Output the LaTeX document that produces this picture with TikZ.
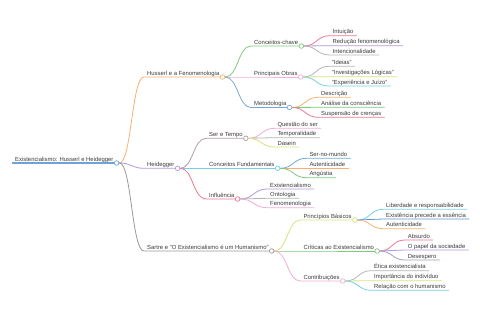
\documentclass[tikz,border=0pt]{standalone}
\usepackage{fontspec}
\setmainfont{Liberation Sans}
\usetikzlibrary{calc}
\definecolor{corange}{HTML}{F8B070}
\definecolor{cpurple}{HTML}{AF98DC}
\definecolor{cgray}{HTML}{999999}
\definecolor{cgreen}{HTML}{80C880}
\definecolor{cpink}{HTML}{F2ACD5}
\definecolor{cblue}{HTML}{7AA6D6}
\definecolor{cred}{HTML}{EC7890}
\definecolor{clgray}{HTML}{B4B4B4}
\definecolor{cyellow}{HTML}{D9E27E}
\definecolor{ccyan}{HTML}{78CFEA}
\definecolor{croot}{HTML}{6AA4D8}
\definecolor{cteal}{HTML}{6AADD4}
\definecolor{cdblue}{HTML}{6194CC}
\definecolor{cmauve}{HTML}{AE9DAA}
\definecolor{cpgray}{HTML}{A89CB8}
\definecolor{ctext}{HTML}{3A3A3A}
\tikzset{
  lbl/.style={font=\fontsize{5.9}{7}\selectfont, text=ctext, inner xsep=3pt, inner ysep=0pt, anchor=base west},
  dot/.style={circle, fill=white, line width=0.7pt, minimum size=4.6pt, inner sep=0pt},
  edge/.style={line width=0.8pt, line cap=round}
}
% #1 name, #2 parent, #3 line start x, #4 y, #5 color, #6 text
\newcommand{\mmbranch}[6]{%
  \coordinate (#1-s) at (#3,#4);
  \node[lbl] (#1) at ([yshift=1.8pt]#1-s) {#6};
  \coordinate (#1-e) at (#1.east |- #1-s);
  \draw[edge,#5] let \p1=(#2-c.east), \p2=(#1-s) in
    (\p1) .. controls ({(\x1+\x2)/2},\y1) and ({(\x1+\x2)/2},\y2) .. (\p2) -- ([xshift=-2.3pt]#1-e);
  \node[dot,draw=#5] (#1-c) at (#1-e) {};
}
\newcommand{\mmleaf}[6]{%
  \coordinate (#1-s) at (#3,#4);
  \node[lbl] (#1) at ([yshift=1.8pt]#1-s) {#6};
  \draw[edge,#5] let \p1=(#2-c.east), \p2=(#1-s) in
    (\p1) .. controls ({(\x1+\x2)/2},\y1) and ({(\x1+\x2)/2},\y2) .. (\p2) -- (#1.east |- #1-s);
}
\begin{document}
\begin{tikzpicture}[x=1pt,y=-1pt]
\useasboundingbox (0,0) rectangle (480,320);
% root
\coordinate (root-s) at (12,163);
\node[lbl] (root) at ([yshift=1.8pt]root-s) {Existencialismo: Husserl e Heidegger};
\coordinate (root-e) at (root.east |- root-s);
\draw[line width=1.3pt,croot] (root-s) -- ([xshift=-2.3pt]root-e);
\node[dot,draw=croot] (root-c) at (root-e) {};
% level 1
\mmbranch{hus}{root}{144}{77}{corange}{Husserl e a Fenomenologia}
\mmbranch{hei}{root}{144}{168.3}{cpurple}{Heidegger}
\mmbranch{sar}{root}{144}{251}{cgray}{Sartre e "O Existencialismo é um Humanismo"}
% Husserl
\mmbranch{cc}{hus}{251}{46}{cgreen}{Conceitos-chave}
\mmbranch{po}{hus}{251}{77}{cpink}{Principais Obras}
\mmbranch{met}{hus}{251}{107.5}{cblue}{Metodologia}
\mmleaf{int}{cc}{329.5}{35.7}{cred}{Intuição}
\mmleaf{red}{cc}{329.5}{45.7}{cpurple}{Redução fenomenológica}
\mmleaf{inten}{cc}{329.5}{55}{clgray}{Intencionalidade}
\mmleaf{ide}{po}{328.7}{66.3}{clgray}{"Ideias"}
\mmleaf{inv}{po}{328.7}{76.7}{cyellow}{"Investigações Lógicas"}
\mmleaf{exp}{po}{328.7}{86}{ccyan}{"Experiência e Juízo"}
\mmleaf{des}{met}{318}{97.3}{corange}{Descrição}
\mmleaf{ana}{met}{318}{107.3}{cgreen}{Análise da consciência}
\mmleaf{sus}{met}{318}{117.3}{cred}{Suspensão de crenças}
% Heidegger
\mmbranch{set}{hei}{206}{138.3}{cmauve}{Ser e Tempo}
\mmbranch{cf}{hei}{206}{168.3}{ccyan}{Conceitos Fundamentais}
\mmbranch{inf}{hei}{206}{199}{cred}{Influência}
\mmleaf{qs}{set}{274.3}{128.3}{cpink}{Questão do ser}
\mmleaf{tem}{set}{274.3}{137.7}{clgray}{Temporalidade}
\mmleaf{das}{set}{274.3}{147}{cyellow}{Dasein}
\mmleaf{snm}{cf}{306.3}{158.3}{cteal}{Ser-no-mundo}
\mmleaf{aut}{cf}{306.3}{168.3}{corange}{Autenticidade}
\mmleaf{ang}{cf}{306.3}{177.7}{cgreen}{Angústia}
\mmleaf{exi}{inf}{267}{189}{cpurple}{Existencialismo}
\mmleaf{ont}{inf}{267}{198.3}{clgray}{Ontologia}
\mmleaf{fen}{inf}{267}{207.7}{cpink}{Fenomenologia}
% Sartre
\mmbranch{pb}{sar}{300.3}{220}{cyellow}{Princípios Básicos}
\mmbranch{cr}{sar}{300.3}{251}{cgreen}{Críticas ao Existencialismo}
\mmbranch{con}{sar}{300.3}{281}{cpink}{Contribuições}
\mmleaf{lib}{pb}{383}{209.3}{ccyan}{Liberdade e responsabilidade}
\mmleaf{epe}{pb}{383}{219}{cdblue}{Existência precede a essência}
\mmleaf{aut2}{pb}{383}{228.7}{corange}{Autenticidade}
\mmleaf{abs}{cr}{404.7}{240}{cred}{Absurdo}
\mmleaf{pap}{cr}{404.7}{250}{cpurple}{O papel da sociedade}
\mmleaf{dsp}{cr}{404.7}{260}{cpgray}{Desespero}
\mmleaf{eti}{con}{371}{270.7}{clgray}{Ética existencialista}
\mmleaf{imp}{con}{371}{280.7}{cyellow}{Importância do indivíduo}
\mmleaf{rel}{con}{371}{290.3}{ccyan}{Relação com o humanismo}
\end{tikzpicture}
\end{document}
